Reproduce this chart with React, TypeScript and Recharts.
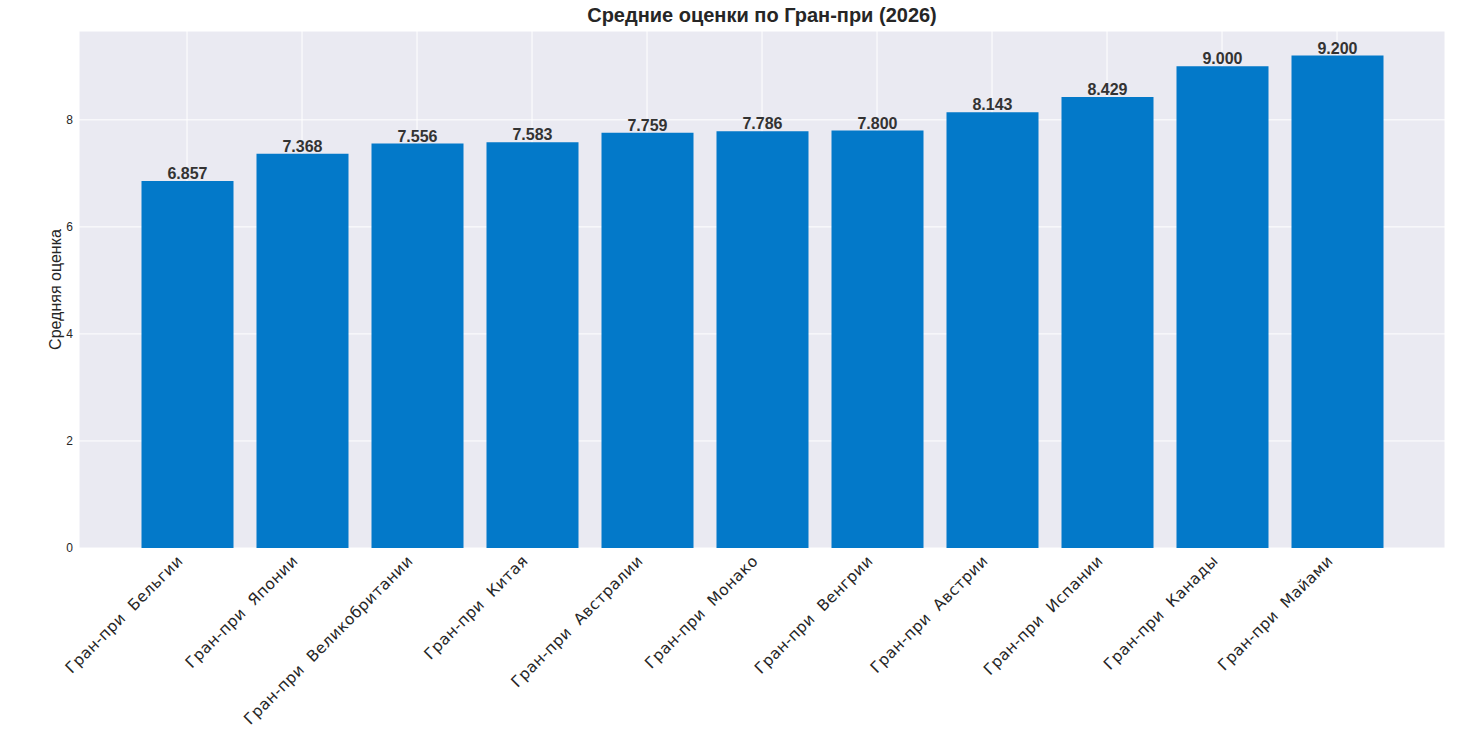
import React from 'react';
import { BarChart, Bar, XAxis, YAxis, CartesianGrid, LabelList } from 'recharts';

const CATEGORIES = [
    'Гран-при  Бельгии',
    'Гран-при  Японии',
    'Гран-при  Великобритании',
    'Гран-при  Китая',
    'Гран-при  Австралии',
    'Гран-при  Монако',
    'Гран-при  Венгрии',
    'Гран-при  Австрии',
    'Гран-при  Испании',
    'Гран-при  Канады',
    'Гран-при  Майами',
];
const SCORES = [6.857, 7.368, 7.556, 7.583, 7.759, 7.786, 7.8, 8.143, 8.429, 9.0, 9.2];
const Y_TICKS = [0, 2, 4, 6, 8];

const data = CATEGORIES.map((name, i) => ({ name, score: SCORES[i] }));

const SANS = '"Liberation Sans", Arial, sans-serif';

function RotatedTick(props: any) {
    const { x, y, payload } = props;
    return (
        <text
            x={0}
            y={0}
            transform={`translate(${x - 11},${y - 2}) rotate(-45)`}
            textAnchor="end"
            dominantBaseline="hanging"
            fontFamily='"DejaVu Sans", sans-serif'
            fontSize={15.5}
            letterSpacing={0.4}
            fill="#262626"
            style={{ whiteSpace: 'pre' }}
        >
            {payload.value}
        </text>
    );
}

function YLabel(props: any) {
    const { viewBox } = props;
    const cy = viewBox.y + viewBox.height / 2;
    return (
        <text
            x={61}
            y={cy}
            transform={`rotate(-90, 61, ${cy})`}
            textAnchor="middle"
            fontFamily={SANS}
            fontSize={16}
            fill="#262626"
        >
            Средняя оценка
        </text>
    );
}

export default function App() {
    return (
        <div style={{ position: 'absolute', left: 0, top: 0, width: 1460, height: 729, background: '#fff' }}>
            <div
                style={{
                    position: 'absolute',
                    top: 4,
                    left: 79,
                    width: 1366,
                    textAlign: 'center',
                    fontFamily: SANS,
                    fontWeight: 'bold',
                    fontSize: 20,
                    color: '#262626',
                }}
            >
                Средние оценки по Гран-при (2026)
            </div>
            <BarChart
                width={1460}
                height={729}
                data={data}
                margin={{ top: 31, right: 15, bottom: 0, left: 19 }}
            >
                <CartesianGrid stroke="#ffffff" strokeWidth={1} fill="#EAEAF2" fillOpacity={1} />
                <XAxis
                    dataKey="name"
                    padding={{ left: 50.5, right: 50.5 }}
                    axisLine={false}
                    tickLine={false}
                    interval={0}
                    tick={<RotatedTick />}
                    height={181}
                />
                <YAxis
                    domain={[0, 9.66]}
                    ticks={Y_TICKS}
                    width={60}
                    axisLine={false}
                    tickLine={false}
                    tickSize={0}
                    tickMargin={6}
                    tick={{ fontFamily: SANS, fontSize: 12, fill: '#262626' }}
                    label={<YLabel />}
                />
                <Bar dataKey="score" fill="#0379C9" barSize={92} isAnimationActive={false}>
                    <LabelList
                        dataKey="score"
                        position="top"
                        offset={2}
                        formatter={(v: any) => Number(v).toFixed(3)}
                        style={{ fontFamily: SANS, fontSize: 16, fontWeight: 'bold', fill: '#333333' }}
                    />
                </Bar>
            </BarChart>
        </div>
    );
}
